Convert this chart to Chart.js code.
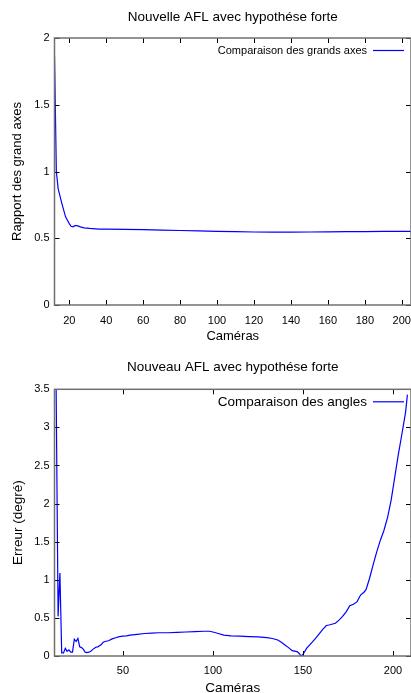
<!DOCTYPE html>
<html>
<head>
<meta charset="utf-8">
<script src="https://cdn.jsdelivr.net/npm/chart.js@4/dist/chart.umd.min.js"></script>
<style>
    html, body { margin: 0; padding: 0; background: #fff; overflow: hidden; }
    canvas { position: absolute; left: 0; }
    #top { top: 0; }
    #bottom { top: 340px; }
</style>
</head>
<body>
<canvas id="top" width="411" height="346"></canvas>
<canvas id="bottom" width="411" height="353"></canvas>
<script>
// Rapport des grands axes
const cameras1 = [12, 13, 14, 16, 18, 19, 20, 21, 22, 23, 24, 25, 26, 28, 31, 36, 40, 50, 60, 70, 80, 90, 100, 110, 120, 130, 140, 150, 160, 170, 180, 190, 200, 205];
const ratio1 = [1.87, 1.0, 0.87, 0.76, 0.66, 0.635, 0.61, 0.59, 0.585, 0.594, 0.595, 0.591, 0.585, 0.578, 0.574, 0.569, 0.568, 0.566, 0.564, 0.561, 0.558, 0.555, 0.552, 0.549, 0.547, 0.546, 0.546, 0.547, 0.548, 0.549, 0.55, 0.551, 0.552, 0.552];

// Erreur des angles
const cameras2 = [12, 14, 15, 16, 17, 18, 19, 20, 21, 22, 23, 24, 25, 26, 27, 28, 29, 30, 31, 32, 33, 34, 35, 36, 37, 38, 39, 40, 42, 44, 46, 48, 50, 52, 54, 58, 62, 66, 70, 75, 80, 85, 90, 95, 98, 100, 103, 106, 110, 115, 120, 125, 130, 133, 136, 138, 140, 142, 144, 146, 147, 148, 149, 150, 152, 155, 157, 159, 161, 163, 165, 168, 170, 172, 174, 176, 178, 180, 182, 184, 185, 187, 189, 191, 193, 195, 197, 199, 201, 203, 205, 207, 208];
const angle2 = [6, 0.52, 1.09, 0.04, 0.04, 0.1, 0.06, 0.08, 0.05, 0.05, 0.22, 0.19, 0.23, 0.12, 0.11, 0.09, 0.05, 0.045, 0.05, 0.06, 0.08, 0.1, 0.115, 0.12, 0.135, 0.15, 0.18, 0.19, 0.2, 0.225, 0.24, 0.255, 0.26, 0.265, 0.275, 0.285, 0.295, 0.3, 0.305, 0.305, 0.31, 0.315, 0.32, 0.325, 0.325, 0.315, 0.295, 0.275, 0.265, 0.26, 0.255, 0.25, 0.24, 0.23, 0.21, 0.18, 0.145, 0.11, 0.07, 0.06, 0.055, 0.03, 0.0, 0.02, 0.1, 0.18, 0.23, 0.29, 0.35, 0.4, 0.41, 0.43, 0.47, 0.52, 0.58, 0.66, 0.68, 0.71, 0.8, 0.84, 0.87, 1.02, 1.2, 1.37, 1.52, 1.65, 1.82, 2.05, 2.35, 2.65, 2.92, 3.2, 3.43];

const xTicks1 = [20, 40, 60, 80, 100, 120, 140, 160, 180, 200];
const yTicks1 = [0, 0.5, 1, 1.5, 2];
const xTicks2 = [50, 100, 150, 200];
const yTicks2 = [0, 0.5, 1, 1.5, 2, 2.5, 3, 3.5];

Chart.defaults.font.family = "'Liberation Sans', Arial, sans-serif";
Chart.defaults.color = "#000";

// cadre et graduations façon gnuplot, légende en haut à droite
const gnuFrame = {
    id: "gnuFrame",
    afterDatasetsDraw(chart, args, opts) {
        const { ctx, chartArea: a, scales: { x, y } } = chart;
        ctx.save();
        ctx.strokeStyle = "#000";
        ctx.lineWidth = 1;
        ctx.beginPath();
        x.ticks.forEach(t => {
            const px = Math.round(x.getPixelForValue(t.value)) + 0.5;
            ctx.moveTo(px, a.bottom);
            ctx.lineTo(px, a.bottom - 5);
            ctx.moveTo(px, a.top);
            ctx.lineTo(px, a.top + 5);
        });
        y.ticks.forEach(t => {
            const py = Math.round(y.getPixelForValue(t.value)) + 0.5;
            ctx.moveTo(a.left, py);
            ctx.lineTo(a.left + 5, py);
            ctx.moveTo(a.right, py);
            ctx.lineTo(a.right - 5, py);
        });
        ctx.stroke();

        ctx.strokeStyle = "#707070";
        ctx.lineWidth = 1.5;
        ctx.strokeRect(a.left, a.top, a.width, a.height);

        const ds = chart.data.datasets[0];
        const ly = a.top + opts.legendY;
        ctx.font = opts.legendSize + "px 'Liberation Sans', Arial, sans-serif";
        ctx.fillStyle = "#000";
        ctx.textAlign = "right";
        ctx.textBaseline = "middle";
        ctx.fillText(ds.label, a.right - 44, ly);
        ctx.strokeStyle = ds.borderColor;
        ctx.lineWidth = 1.2;
        ctx.beginPath();
        ctx.moveTo(a.right - 38, ly);
        ctx.lineTo(a.right - 7, ly);
        ctx.stroke();
        ctx.restore();
    }
};

function build(canvas, cfg) {
    return new Chart(canvas, {
        type: "line",
        data: {
            datasets: [{
                label: cfg.label,
                data: cfg.xs.map((c, i) => ({ x: c, y: cfg.ys[i] })),
                borderColor: "#0000ff",
                borderWidth: 1.2,
                pointRadius: 0,
                tension: 0,
                fill: false,
            }]
        },
        options: {
            responsive: false,
            animation: false,
            devicePixelRatio: 1,
            layout: { padding: 0 },
            plugins: {
                legend: { display: false },
                tooltip: { enabled: false },
                title: {
                    display: true,
                    text: cfg.title,
                    fullSize: false,
                    font: { size: 13.5, weight: "normal" },
                    padding: cfg.titlePad,
                },
                gnuFrame: { legendSize: cfg.legendSize, legendY: 12.5 },
            },
            scales: {
                x: {
                    type: "linear",
                    min: cfg.xmin,
                    max: cfg.xmax,
                    grid: { display: false, drawTicks: false },
                    border: { display: false },
                    afterBuildTicks: s => {
                        s.ticks = cfg.xTicks.map(v => ({ value: v }));
                    },
                    ticks: {
                        autoSkip: false,
                        maxRotation: 0,
                        padding: cfg.xTickPad,
                        font: { size: 11 },
                        callback: v => String(v),
                    },
                    title: {
                        display: true,
                        text: "Caméras",
                        font: { size: cfg.axisSize },
                        padding: { top: 0, bottom: cfg.xTitlePad },
                    },
                    afterFit: s => {
                        s.height = cfg.xHeight;
                        s.paddingLeft = 0;
                        s.paddingRight = 0;
                    },
                },
                y: {
                    min: 0,
                    max: cfg.ymax,
                    grid: { display: false, drawTicks: false },
                    border: { display: false },
                    afterBuildTicks: s => {
                        s.ticks = cfg.yTicks.map(v => ({ value: v }));
                    },
                    ticks: {
                        padding: 5,
                        font: { size: 11 },
                        callback: v => String(v),
                    },
                    title: {
                        display: true,
                        text: cfg.ytitle,
                        font: { size: cfg.axisSize },
                        padding: { top: cfg.yTitlePad, bottom: 0 },
                    },
                    afterFit: s => {
                        s.width = 54.5;
                        s.paddingTop = 0;
                        s.paddingBottom = 0;
                    },
                },
            },
        },
        plugins: [gnuFrame],
    });
}

build(document.getElementById("top"), {
    label: "Comparaison des grands axes",
    title: "Nouvelle AFL avec hypothése forte",
    ytitle: "Rapport des grand axes",
    xs: cameras1,
    ys: ratio1,
    xTicks: xTicks1,
    yTicks: yTicks1,
    xmin: 12,
    xmax: 205,
    ymax: 2,
    titlePad: { top: 9.5, bottom: 12.3 },
    xHeight: 41,
    xTickPad: 9,
    xTitlePad: 2,
    yTitlePad: 9.5,
    axisSize: 13,
    legendSize: 11,
});

build(document.getElementById("bottom"), {
    label: "Comparaison des angles",
    title: "Nouveau AFL avec hypothése forte",
    ytitle: "Erreur (degré)",
    xs: cameras2,
    ys: angle2,
    xTicks: xTicks2,
    yTicks: yTicks2,
    xmin: 12,
    xmax: 210,
    ymax: 3.5,
    titlePad: { top: 19.4, bottom: 13.7 },
    xHeight: 37,
    xTickPad: 8,
    xTitlePad: -3,
    yTitlePad: 10,
    axisSize: 13.5,
    legendSize: 13.5,
});
</script>
</body>
</html>
